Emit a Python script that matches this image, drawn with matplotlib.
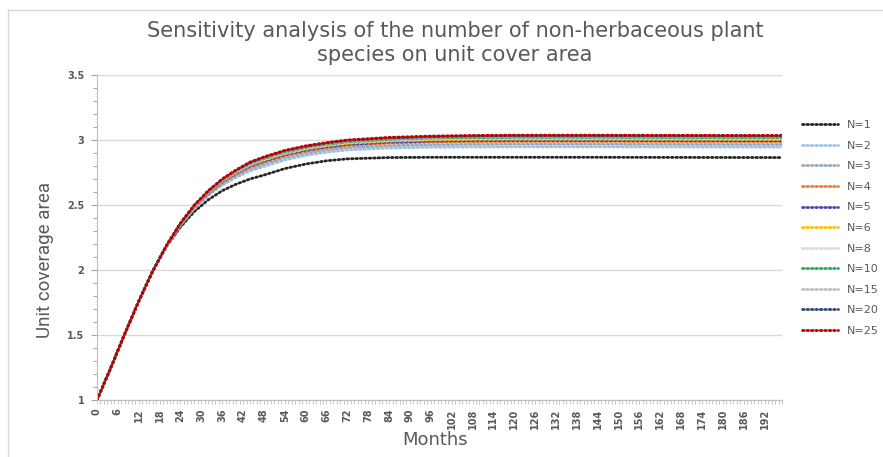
import numpy as np
import matplotlib
matplotlib.use("Agg")
import matplotlib.pyplot as plt
from matplotlib.ticker import MultipleLocator, FuncFormatter
from matplotlib.lines import Line2D

# months
months = [0, 4, 8, 12, 16, 20, 24, 28, 32, 36, 40, 44, 48, 54, 60, 66, 72, 84, 96, 108, 120, 144, 168, 197]

# unit coverage area per series
n1 = [1.00, 1.25, 1.51, 1.76, 1.99, 2.18, 2.33, 2.45, 2.54, 2.61, 2.66, 2.70, 2.73, 2.78, 2.815, 2.84, 2.855, 2.865, 2.867, 2.867, 2.867, 2.867, 2.866, 2.865]
n2 = [1.00, 1.25, 1.51, 1.76, 1.99, 2.185, 2.344, 2.473, 2.573, 2.652, 2.712, 2.761, 2.796, 2.846, 2.881, 2.906, 2.923, 2.938, 2.944, 2.946, 2.947, 2.947, 2.946, 2.945]
n3 = [1.00, 1.25, 1.51, 1.76, 1.99, 2.186, 2.348, 2.479, 2.581, 2.663, 2.725, 2.777, 2.813, 2.863, 2.898, 2.923, 2.941, 2.956, 2.963, 2.966, 2.967, 2.967, 2.966, 2.965]
n4 = [1.00, 1.25, 1.51, 1.76, 1.99, 2.187, 2.351, 2.485, 2.590, 2.674, 2.738, 2.792, 2.829, 2.879, 2.914, 2.939, 2.958, 2.975, 2.983, 2.986, 2.988, 2.988, 2.987, 2.986]
n5 = [1.00, 1.25, 1.51, 1.76, 1.99, 2.188, 2.353, 2.488, 2.593, 2.678, 2.744, 2.799, 2.836, 2.886, 2.921, 2.946, 2.965, 2.983, 2.991, 2.995, 2.996, 2.996, 2.995, 2.994]
n6 = [1.00, 1.25, 1.51, 1.76, 1.99, 2.188, 2.355, 2.491, 2.597, 2.684, 2.750, 2.807, 2.845, 2.895, 2.930, 2.955, 2.974, 2.992, 3.001, 3.005, 3.006, 3.006, 3.005, 3.004]
n8 = [1.00, 1.25, 1.51, 1.76, 1.99, 2.189, 2.356, 2.493, 2.600, 2.687, 2.755, 2.812, 2.850, 2.900, 2.935, 2.960, 2.980, 2.998, 3.007, 3.011, 3.013, 3.013, 3.012, 3.011]
n10 = [1.00, 1.25, 1.51, 1.76, 1.99, 2.189, 2.357, 2.495, 2.603, 2.691, 2.759, 2.817, 2.856, 2.906, 2.941, 2.966, 2.985, 3.004, 3.014, 3.018, 3.020, 3.020, 3.019, 3.018]
n15 = [1.00, 1.25, 1.51, 1.76, 1.99, 2.189, 2.358, 2.497, 2.606, 2.695, 2.763, 2.822, 2.862, 2.912, 2.947, 2.972, 2.991, 3.011, 3.020, 3.025, 3.027, 3.027, 3.026, 3.025]
n20 = [1.00, 1.25, 1.51, 1.76, 1.99, 2.190, 2.359, 2.498, 2.608, 2.697, 2.767, 2.826, 2.866, 2.916, 2.951, 2.976, 2.996, 3.015, 3.025, 3.030, 3.032, 3.032, 3.031, 3.030]
n25 = [1.00, 1.25, 1.51, 1.76, 1.99, 2.190, 2.360, 2.500, 2.610, 2.700, 2.770, 2.830, 2.870, 2.920, 2.955, 2.980, 3.000, 3.020, 3.030, 3.035, 3.037, 3.037, 3.036, 3.035]

labels = ["N=1", "N=2", "N=3", "N=4", "N=5", "N=6", "N=8", "N=10", "N=15", "N=20", "N=25"]
series = [n1, n2, n3, n4, n5, n6, n8, n10, n15, n20, n25]
colors = ["#262626", "#9DC3E6", "#9AA9C2", "#ED7D31", "#5B3FA8", "#FFC000",
          "#D9D9D9", "#2EA855", "#BFBFBF", "#2F4A73", "#C00000"]

txt = "#595959"
W, H = 883, 457
fig = plt.figure(figsize=(W / 100, H / 100), dpi=100)
ax = fig.add_axes([97 / W, 1 - 400 / H, (782 - 97) / W, (400 - 75) / H])

dots = (0, (0.6, 1.0))
for vals, lab, c in zip(series, labels, colors):
    ax.plot(months, vals, color=c, lw=2.0, linestyle=dots,
            dash_capstyle="round", label=lab)

ax.set_xlim(0, 197)
ax.set_ylim(1, 3.5)
ax.yaxis.set_major_locator(MultipleLocator(0.5))
ax.yaxis.set_minor_locator(MultipleLocator(0.1))
ax.yaxis.set_major_formatter(FuncFormatter(lambda v, p: f"{v:g}"))
ax.xaxis.set_major_locator(MultipleLocator(6))
ax.xaxis.set_minor_locator(MultipleLocator(1))
ax.grid(axis="y", color="#D9D9D9", lw=1)
ax.set_axisbelow(True)
for s in ["top", "right"]:
    ax.spines[s].set_visible(False)
for s in ["left", "bottom"]:
    ax.spines[s].set_color("#BFBFBF")

ax.tick_params(axis="y", which="both", direction="out", color="#A6A6A6", length=4, width=0.8,
               labelsize=7, labelcolor=txt, pad=5)
ax.tick_params(axis="y", which="minor", length=3)
ax.tick_params(axis="x", which="both", direction="out", color="#BFBFBF", length=3, width=0.6,
               labelsize=7, labelcolor=txt, labelrotation=90, pad=3)
for t in ax.get_xticklabels() + ax.get_yticklabels():
    t.set_fontweight("bold")

fig.text(455 / W, 1 - 43 / H,
         "Sensitivity analysis of the number of non-herbaceous plant\nspecies on unit cover area",
         ha="center", va="center", fontsize=15, color=txt, family="DejaVu Sans", linespacing=1.25)
fig.text(435 / W, 1 - 440 / H, "Months", ha="center", va="center",
         fontsize=13, color=txt, family="DejaVu Sans")
fig.text(45 / W, 1 - 260 / H, "Unit coverage area", ha="center", va="center", rotation=90,
         fontsize=13.5, color=txt, family=["Roboto", "DejaVu Sans"])

handles = [Line2D([0], [0], color=c, lw=2.0, linestyle=dots, dash_capstyle="round")
           for c in colors]
leg = fig.legend(handles, labels, loc="upper left", bbox_to_anchor=(800 / W, 1 - 118 / H),
                 frameon=False, fontsize=8, handlelength=3.2, handletextpad=0.8,
                 labelspacing=0.95, borderaxespad=0, borderpad=0.2)
for t in leg.get_texts():
    t.set_color(txt)

# chart area border (left and top edges visible)
fig.add_artist(Line2D([8 / W, 8 / W], [0, 1 - 10 / H], color="#D9D9D9", lw=1))
fig.add_artist(Line2D([8 / W, 1], [1 - 10 / H, 1 - 10 / H], color="#D9D9D9", lw=1))

fig.savefig("out.png", dpi=100)
